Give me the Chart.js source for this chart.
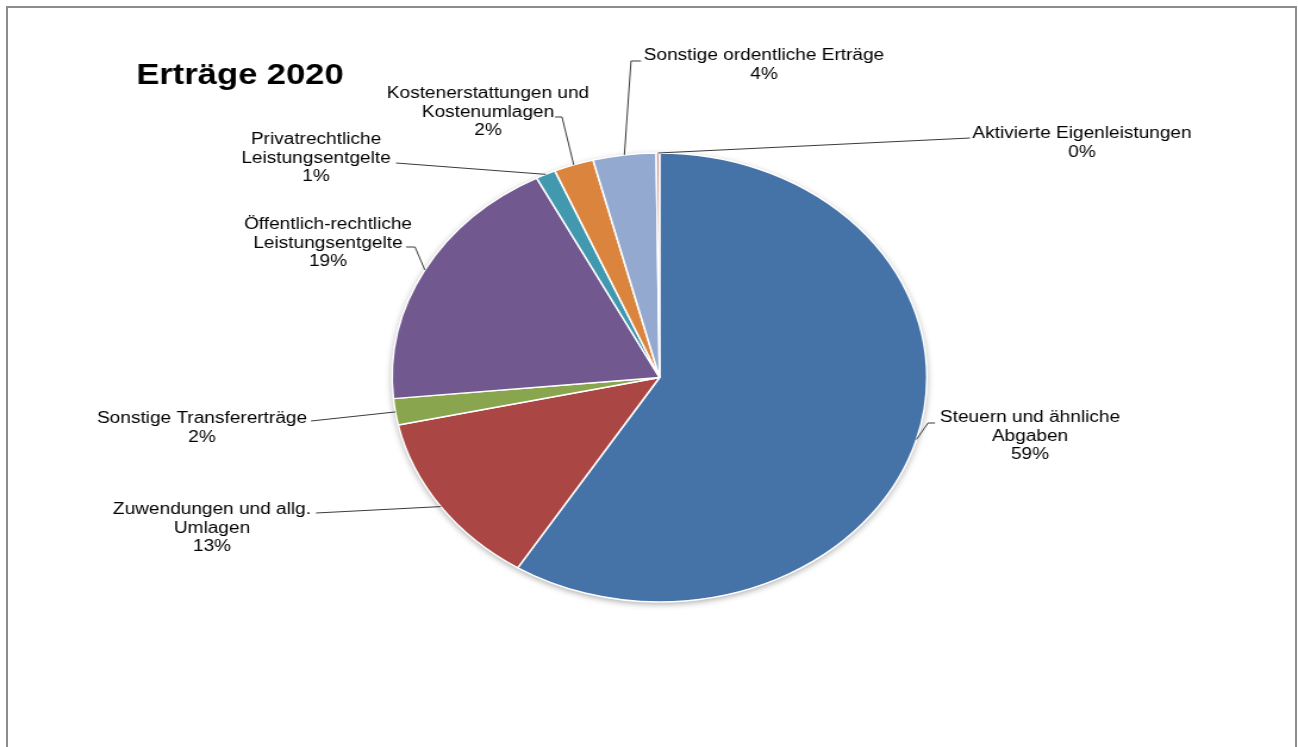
<!DOCTYPE html>
<html>
<head>
<meta charset="utf-8">
<title>Erträge 2020</title>
<script src="https://cdn.jsdelivr.net/npm/chart.js@4.4.1/dist/chart.umd.min.js"></script>
<style>
    html, body { margin: 0; padding: 0; background: #fff; overflow: hidden; }
    #frame {
        position: absolute; left: 6px; top: 6px;
        width: 1287px; height: 800px;
        border: 2px solid #8c8c8c;
    }
    #ertraege-chart { position: absolute; left: 0; top: 0; }
</style>
</head>
<body>
<div id="frame"></div>
<!-- the original chart is stretched horizontally, so the canvas is drawn narrower and widened by the inline size -->
<canvas id="ertraege-chart" width="1090" height="747" style="width:1298px;height:747px"></canvas>
<script>
const categories = [
    'Steuern und ähnliche Abgaben',
    'Zuwendungen und allg. Umlagen',
    'Sonstige Transfererträge',
    'Öffentlich-rechtliche Leistungsentgelte',
    'Privatrechtliche Leistungsentgelte',
    'Kostenerstattungen und Kostenumlagen',
    'Sonstige ordentliche Erträge',
    'Aktivierte Eigenleistungen'
];
const shares = [58.9, 12.7, 1.9, 18.9, 1.2, 2.4, 3.8, 0.2];
const sliceColors = ['#4572A7', '#AA4643', '#89A54E', '#71588F', '#4198AF', '#DB843D', '#93A9CF', '#D19392'];

// how the category names wrap in the labels
const labelLines = [
    ['Steuern und ähnliche', 'Abgaben'],
    ['Zuwendungen und allg.', 'Umlagen'],
    ['Sonstige Transfererträge'],
    ['Öffentlich-rechtliche', 'Leistungsentgelte'],
    ['Privatrechtliche', 'Leistungsentgelte'],
    ['Kostenerstattungen und', 'Kostenumlagen'],
    ['Sonstige ordentliche Erträge'],
    ['Aktivierte Eigenleistungen']
];

// label placement in page pixels (text centre, first line) plus leader bends
const labelSpots = [
    { x: 1030, y: 418, leader: [[928, 423], [935, 423]] },
    { x: 212, y: 510, leader: [[316, 513]] },
    { x: 202, y: 419, leader: [[311, 421]] },
    { x: 328, y: 225, leader: [[415, 247], [406, 247]] },
    { x: 316, y: 140, leader: [[396, 163]] },
    { x: 488, y: 94, leader: [[562, 117], [555, 117]] },
    { x: 764, y: 56, leader: [[631, 61], [641, 61]] },
    { x: 1082, y: 134, leader: [[970, 138]] }
];

const SX = 1298 / 1090; // horizontal stretch of the picture
const LINE_H = 18.5;

const pieDecor = {
    id: 'pieDecor',
    beforeDatasetsDraw(chart) {
        // soft shadow under the pie
        const arc = chart.getDatasetMeta(0).data[0];
        if (!arc) return;
        const ctx = chart.ctx;
        ctx.save();
        ctx.shadowColor = 'rgba(0, 0, 0, 0.35)';
        ctx.shadowBlur = 6;
        ctx.shadowOffsetY = 2;
        ctx.beginPath();
        ctx.arc(arc.x, arc.y, arc.outerRadius, 0, Math.PI * 2);
        ctx.fillStyle = '#fff';
        ctx.fill();
        ctx.restore();
    },
    afterDraw(chart) {
        const ctx = chart.ctx;
        const meta = chart.getDatasetMeta(0);
        const total = shares.reduce((a, b) => a + b, 0);

        ctx.save();
        // title
        ctx.fillStyle = '#000';
        ctx.font = 'bold 29px "Liberation Sans", Arial, sans-serif';
        ctx.textAlign = 'center';
        ctx.textBaseline = 'middle';
        ctx.fillText('Erträge 2020', 240 / SX, 76);

        ctx.font = '16px "Liberation Sans", Arial, sans-serif';
        meta.data.forEach((arc, i) => {
            const spot = labelSpots[i];
            const mid = (arc.startAngle + arc.endAngle) / 2;
            const r = arc.outerRadius;

            // leader line from the slice edge
            ctx.beginPath();
            ctx.moveTo(arc.x + Math.cos(mid) * r, arc.y + Math.sin(mid) * r);
            spot.leader.forEach(p => ctx.lineTo(p[0] / SX, p[1]));
            ctx.strokeStyle = '#3a3a3a';
            ctx.lineWidth = 1;
            ctx.stroke();

            const lines = labelLines[i].concat([Math.round(shares[i] / total * 100) + '%']);
            lines.forEach((t, k) => {
                ctx.fillText(t, spot.x / SX, spot.y + k * LINE_H);
            });
        });
        ctx.restore();
    }
};

new Chart(document.getElementById('ertraege-chart'), {
    type: 'pie',
    data: {
        labels: categories,
        datasets: [{
            data: shares,
            backgroundColor: sliceColors,
            borderColor: '#fff',
            borderWidth: 1.5
        }]
    },
    options: {
        responsive: false,
        animation: false,
        radius: 224.5,
        layout: { padding: { left: 17.7, top: 8, right: 0, bottom: 0 } },
        plugins: {
            legend: { display: false },
            tooltip: { enabled: false },
            title: { display: false }
        }
    },
    plugins: [pieDecor]
});
</script>
</body>
</html>
